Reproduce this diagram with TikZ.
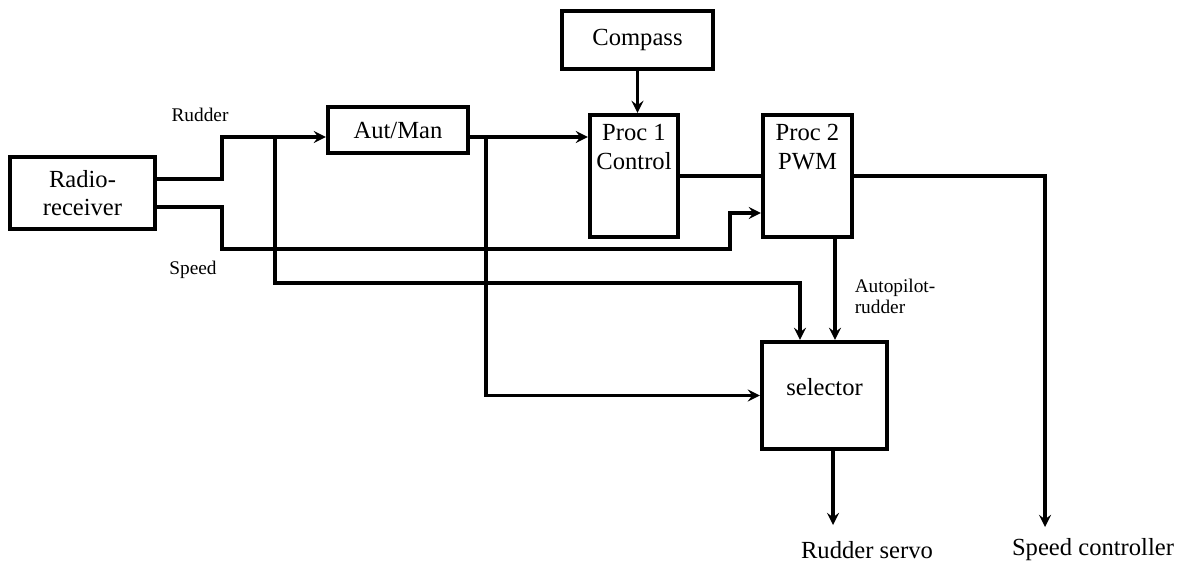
\documentclass[tikz,border=0pt]{standalone}
\usepackage{fontspec}
\setmainfont{Liberation Serif}
\newfontfamily\tms{Liberation Serif}
\begin{document}
\begin{tikzpicture}[>=stealth, x=0.02cm, y=-0.02cm, line width=2pt,
    blk/.style={draw, line width=2.4pt, inner sep=0pt, align=center, font=\tms\fontsize{14}{16}\selectfont},
    sig/.style={font=\tms\fontsize{11}{12}\selectfont, align=left, inner sep=0pt}]
            \useasboundingbox (0,0) rectangle (1184,562);
            % blocks
            \node[blk,minimum width=2.9cm,minimum height=1.44cm] (radio) at (82.5,193) {Radio-\\receiver};
            \node[blk,minimum width=2.8cm,minimum height=0.92cm] (autman) at (398,130) {Aut/Man};
            \node[blk,minimum width=3.02cm,minimum height=1.16cm] (compass) at (637.5,40) {Compass};
            \node[blk,minimum width=1.76cm,minimum height=2.44cm,
                label={[sig,anchor=north,align=center,font=\tms\fontsize{14}{16}\selectfont,yshift=-0.2cm]north:{Proc 1\\Control}}] (proc1) at (634,176) {};
            \node[blk,minimum width=1.78cm,minimum height=2.44cm,
                label={[sig,anchor=north,align=center,font=\tms\fontsize{14}{16}\selectfont,yshift=-0.2cm]north:{Proc 2\\PWM}}] (proc2) at (807.5,176) {};
            \node[blk,minimum width=2.5cm,minimum height=2.14cm,text depth=0.34cm] (sel) at (824.5,395.5) {selector};
            % bends and free ends
            \coordinate (rbend) at (222,137);
            \coordinate (sbend) at (222,249);
            \coordinate (rtap) at (275,137);
            \coordinate (mtap) at (486,137);
            \coordinate (sjog) at (730,213);
            \coordinate (seltap) at (800,283);
            \coordinate (rudend) at (833,525);
            \coordinate (spdend) at (1045,527);
            % connectors
            \draw[->] ([yshift=0.28cm]radio.east) -| (rbend) -- (autman.west |- rbend);
            \draw[->] (rtap) |- (seltap) -- (sel.north -| seltap);
            \draw[->] ([yshift=-0.28cm]radio.east) -| (sbend) -| (sjog) -- (proc2.west |- sjog);
            \draw[->] (autman.east |- mtap) -- (proc1.west |- mtap);
            \draw[->] (mtap) |- (sel.west);
            \draw[->] (compass.south) -- (compass.south |- proc1.north);
            \draw[line width=2.6pt] (proc1.east) -- (proc1.east -| proc2.west);
            \draw[->] (proc2.east) -| (spdend);
            \draw[->] ([xshift=0.55cm]proc2.south) -- ([xshift=0.55cm]proc2.south |- sel.north);
            \draw[->] (sel.south -| rudend) -- (rudend);
            % labels
            \node[sig] (lrud) at (200,115) {Rudder};
            \node[sig] (lspd) at (193,270) {Speed};
            \node[sig,anchor=west] (lauto) at (853,296) {Autopilot-\\rudder};
            \node[blk,draw=none] (lservo) at (867,550) {Rudder servo};
            \node[blk,draw=none] (lspc) at (1093,550) {Speed controller};
        \end{tikzpicture}
\end{document}
